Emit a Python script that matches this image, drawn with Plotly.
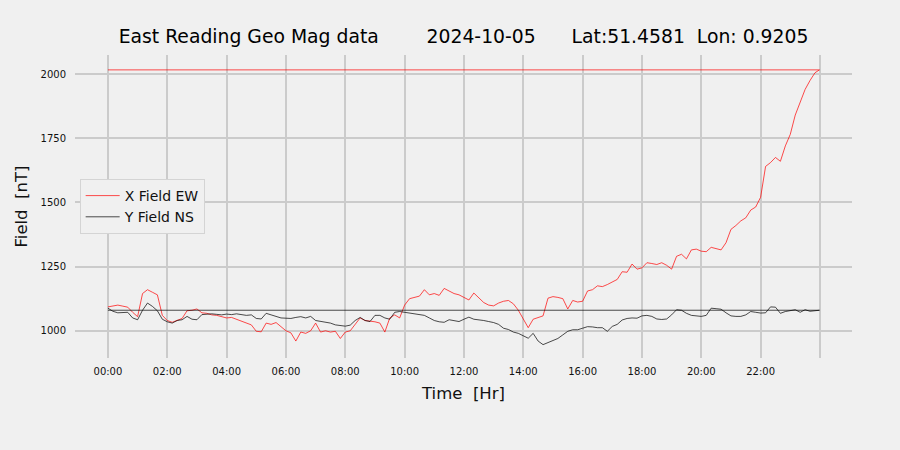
import plotly.graph_objects as go

# sample times (10-minute readings), last one wraps to next day's 00:00
times = [f"{h:02d}:{m:02d}" for h in range(24) for m in range(0, 60, 10)] + ["23:59", "00:00"]

x_field_ew = [
    1093, 1098, 1100, 1096, 1092, 1072,
    1055, 1145, 1160, 1150, 1140, 1060,
    1040, 1033, 1040, 1048, 1078, 1080,
    1085, 1070, 1068, 1062, 1060, 1056,
    1050, 1052, 1045, 1036, 1030, 1023,
    998, 996, 1030, 1025, 1032, 1015,
    1000, 992, 960, 995, 990, 1000,
    1030, 995, 1000, 995, 998, 970,
    995, 1000, 1025, 1050, 1040, 1038,
    1035, 1030, 995, 1050, 1062, 1050,
    1100, 1125, 1130, 1135, 1160, 1140,
    1145, 1138, 1165, 1155, 1145, 1140,
    1130, 1120, 1147, 1130, 1110, 1100,
    1097, 1108, 1115, 1118, 1105, 1080,
    1043, 1012, 1045, 1050, 1058, 1127,
    1133, 1130, 1125, 1085, 1118, 1112,
    1115, 1155, 1160, 1175, 1172, 1180,
    1190, 1200, 1230, 1228, 1260, 1240,
    1245, 1265, 1262, 1258, 1265, 1255,
    1240, 1290, 1298, 1280, 1315, 1318,
    1310, 1308, 1325, 1320, 1315, 1343,
    1395, 1410, 1428, 1440, 1470, 1482,
    1520, 1640, 1655, 1675, 1660, 1720,
    1765, 1840, 1890, 1940, 1975, 2005,
    2016, 2016,
]

y_field_ns = [
    1088, 1076, 1070, 1072, 1072, 1050,
    1043, 1080, 1108, 1095, 1078, 1045,
    1035, 1030, 1040, 1043, 1056, 1045,
    1043, 1063, 1065, 1066, 1064, 1062,
    1065, 1063, 1066, 1062, 1060, 1062,
    1048, 1046, 1068, 1062, 1055, 1050,
    1049, 1048, 1052, 1055, 1050, 1056,
    1040, 1036, 1032, 1030, 1023, 1020,
    1018, 1022, 1040, 1052, 1040, 1036,
    1060, 1060, 1050, 1045, 1072, 1075,
    1072, 1070, 1068, 1065, 1060, 1050,
    1040, 1035, 1033, 1043, 1040, 1036,
    1045, 1053, 1045, 1043, 1040, 1036,
    1032, 1025, 1010, 1005, 995, 990,
    980, 971, 990, 960, 946, 955,
    962, 970, 984, 998, 1004, 1004,
    1010, 1016, 1015, 1012, 1012, 998,
    1017, 1025, 1042, 1048, 1050, 1049,
    1058, 1060, 1056, 1046, 1044, 1046,
    1062, 1082, 1080, 1068, 1060, 1058,
    1056, 1060, 1088, 1086, 1084, 1070,
    1058, 1056, 1056, 1062, 1075, 1072,
    1069, 1070, 1093, 1092, 1068, 1075,
    1078, 1082, 1072, 1082, 1076, 1078,
    1080, 1080,
]

tick_hours = [0, 2, 4, 6, 8, 10, 12, 14, 16, 18, 20, 22, 24]
tick_labels = ["00:00", "02:00", "04:00", "06:00", "08:00", "10:00", "12:00",
               "14:00", "16:00", "18:00", "20:00", "22:00", ""]
y_ticks = [1000, 1250, 1500, 1750, 2000]

hours = [int(t[:2]) + int(t[3:]) / 60 for t in times]

fig = go.Figure()
fig.add_trace(go.Scatter(x=hours, y=x_field_ew, mode="lines", name="X Field EW",
                         line=dict(color="red", width=0.7)))
fig.add_trace(go.Scatter(x=hours, y=y_field_ns, mode="lines", name="Y Field NS",
                         line=dict(color="black", width=0.7)))

sp = "\u00a0"
title = ("East Reading Geo Mag data" + sp * 8 + "2024-10-05" + sp * 6 +
         "Lat:51.4581" + sp * 2 + "Lon: 0.9205")

fig.update_layout(
    width=900, height=450,
    paper_bgcolor="#f0f0f0", plot_bgcolor="#f0f0f0",
    margin=dict(l=75, r=48, t=55, b=92),
    font=dict(family="DejaVu Sans", color="#111111"),
    title=dict(text=title, x=0.515, xanchor="center", y=0.92, yanchor="middle",
               font=dict(size=18.8, family="DejaVu Sans", color="#000000")),
    showlegend=True,
    legend=dict(x=0.006, y=0.5, xanchor="left", yanchor="middle",
                bgcolor="#f0f0f0", bordercolor="#d4d4d4", borderwidth=1,
                font=dict(size=14, family="DejaVu Sans", color="#111111"),
                itemwidth=34, tracegroupgap=2),
    xaxis=dict(range=[-1.11, 25.08], tickvals=tick_hours, ticktext=tick_labels,
               showgrid=True, gridcolor="#cbcbcb", gridwidth=2, zeroline=False,
               showline=False, ticks="", tickfont=dict(size=10, color="#111111"),
               ticklabelstandoff=6,
               title=dict(text="Time" + sp * 2 + "[Hr]", font=dict(size=16.5), standoff=11)),
    yaxis=dict(range=[894, 2074], tickvals=y_ticks,
               showgrid=True, gridcolor="#cbcbcb", gridwidth=2, zeroline=False,
               showline=False, ticks="", tickfont=dict(size=10, color="#111111"),
               ticklabelstandoff=8,
               title=dict(text="Field" + sp * 2 + "[nT]", font=dict(size=16.5), standoff=8)),
)

fig.write_html("out.html", config={"displayModeBar": False},
               post_script="document.body.style.margin='0';document.body.style.background='#f0f0f0';")
